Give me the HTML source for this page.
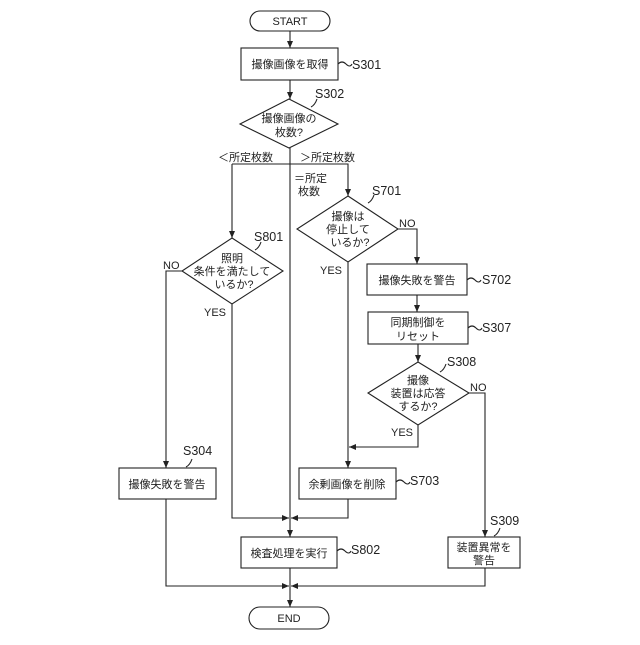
<!DOCTYPE html>
<html><head><meta charset="utf-8"><style>
body{margin:0;background:#fff}
svg text{font-family:"Liberation Sans","Noto Sans CJK JP",sans-serif;font-size:11px;fill:#222}
.l{font-size:12.5px}
</style></head><body>
<svg width="640" height="640" viewBox="0 0 640 640" xmlns="http://www.w3.org/2000/svg">
<defs><marker id="a" markerWidth="8" markerHeight="8" refX="7" refY="4" orient="auto" markerUnits="userSpaceOnUse"><path d="M0,1 L7,4 L0,7 z" fill="#222"/></marker></defs>
<g fill="none" stroke="#222" stroke-width="1.1">
<rect x="250" y="11" width="80" height="20" rx="10"/>
<rect x="241" y="48" width="97" height="32"/>
<polygon points="289,99 338,124 289,148 240,124"/>
<polygon points="348,196 398,229 348,262 297,229"/>
<polygon points="232,238 283,271 232,304 182,271"/>
<rect x="367" y="264" width="100" height="31"/>
<rect x="368" y="312" width="100" height="32"/>
<polygon points="418,362 469,393 418,425 368,393"/>
<rect x="299" y="468" width="97" height="31"/>
<rect x="119" y="468" width="97" height="31"/>
<rect x="241" y="537" width="96" height="31"/>
<rect x="448" y="537" width="72" height="31"/>
<rect x="249" y="607" width="80" height="22" rx="11"/>
<g marker-end="url(#a)">
<path d="M290,31 V48"/><path d="M290,80 V99"/>
<path d="M290,148 V537"/>
<path d="M232,164 H348 V196"/><path d="M232,164 V238"/>
<path d="M398,229 H417 V264"/><path d="M417,295 V312"/><path d="M418,344 V362"/>
<path d="M348,262 V468"/><path d="M418,425 V447 H349"/>
<path d="M182,271 H166 V468"/>
<path d="M469,393 H485 V537"/>
<path d="M232,304 V518 H289"/><path d="M348,499 V518 H291"/>
<path d="M166,499 V586 H289"/><path d="M485,568 V586 H291"/>
<path d="M290,568 V607"/>
</g>
<path d="M338,64 q4,-4 8,0 t6,0"/><path d="M311,107 q4,-2 6,-8"/>
<path d="M368,203 q4,-2 6,-8"/><path d="M255,250 q4,-2 6,-8"/>
<path d="M467,280 q4,-4 8,0 t6,0"/><path d="M468,328 q4,-4 8,0 t6,0"/>
<path d="M440,372 q4,-2 6,-8"/><path d="M396,482 q4,-4 8,0 t6,0"/>
<path d="M186,467 q4,-2 6,-8"/><path d="M337,551 q4,-4 8,0 t6,0"/>
<path d="M494,536 q4,-2 6,-8"/>
</g>
<g text-anchor="middle">
<text x="290" y="25">START</text>
<text x="290" y="68">撮像画像を取得</text>
<text x="289" y="122">撮像画像の</text><text x="289" y="136">枚数?</text>
<text x="348" y="220">撮像は</text><text x="348" y="233">停止して</text><text x="350" y="246">いるか?</text>
<text x="232" y="262">照明</text><text x="232" y="275">条件を満たして</text><text x="234" y="288">いるか?</text>
<text x="417" y="284">撮像失敗を警告</text>
<text x="418" y="326">同期制御を</text><text x="418" y="340">リセット</text>
<text x="418" y="384">撮像</text><text x="418" y="397">装置は応答</text><text x="418" y="410">するか?</text>
<text x="347" y="488">余剰画像を削除</text>
<text x="167" y="488">撮像失敗を警告</text>
<text x="289" y="557">検査処理を実行</text>
<text x="484" y="551">装置異常を</text><text x="484" y="564">警告</text>
<text x="289" y="622">END</text>
</g>
<text x="218" y="161">＜所定枚数</text>
<text x="300" y="161">＞所定枚数</text>
<text x="294" y="182">＝所定</text><text x="298" y="195">枚数</text>
<text x="399" y="227">NO</text><text x="320" y="274">YES</text>
<text x="163" y="269">NO</text><text x="204" y="316">YES</text>
<text x="470" y="391">NO</text><text x="391" y="436">YES</text>
<text class="l" x="352" y="69">S301</text>
<text class="l" x="315" y="98">S302</text>
<text class="l" x="372" y="195">S701</text>
<text class="l" x="254" y="241">S801</text>
<text class="l" x="482" y="284">S702</text>
<text class="l" x="482" y="332">S307</text>
<text class="l" x="447" y="366">S308</text>
<text class="l" x="410" y="485">S703</text>
<text class="l" x="183" y="455">S304</text>
<text class="l" x="351" y="554">S802</text>
<text class="l" x="490" y="525">S309</text>
</svg>
</body></html>
